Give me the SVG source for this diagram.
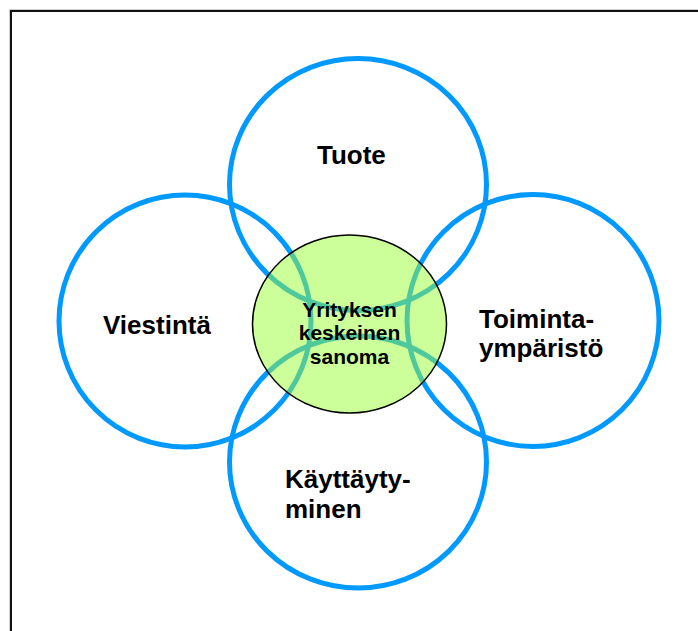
<svg xmlns="http://www.w3.org/2000/svg" width="698" height="631" viewBox="0 0 698 631">
<style>
.ring{fill:none;stroke:#0099FF;stroke-width:5}
.ringIn{fill:none;stroke:#4FC99B;stroke-width:5}
.lbl{font-family:"Liberation Sans",Arial,sans-serif;font-weight:bold;font-size:26px;fill:#000}
.ctr{font-family:"Liberation Sans",Arial,sans-serif;font-weight:bold;font-size:21px;fill:#000;text-anchor:middle}
</style>
<defs>
<clipPath id="inner"><ellipse cx="349.5" cy="324" rx="97" ry="89"/></clipPath>
</defs>
<rect width="698" height="631" fill="#fff"/>
<g id="frame">
<path d="M9.5,631 V9.5 H698" fill="none" stroke="#cfcfcf" stroke-width="1"/>
<path d="M11,631 V11 H698" fill="none" stroke="#111" stroke-width="2"/>
</g>
<g id="tuote">
<ellipse class="ring" cx="358" cy="184.5" rx="128.5" ry="126"/>
<text class="lbl" x="317" y="164">Tuote</text>
</g>
<g id="viestinta">
<circle class="ring" cx="185" cy="321" r="126"/>
<text class="lbl" x="103" y="334">Viestintä</text>
</g>
<g id="toimintaymparisto">
<circle class="ring" cx="533" cy="320.5" r="126"/>
<text class="lbl" x="479" y="328">Toiminta-</text>
<text class="lbl" x="479" y="357">ympäristö</text>
</g>
<g id="kayttaytyminen">
<ellipse class="ring" cx="358" cy="462" rx="128.5" ry="126"/>
<text class="lbl" x="285" y="488">Käyttäyty-</text>
<text class="lbl" x="285" y="518">minen</text>
</g>
<g id="keskeinen">
<ellipse cx="349.5" cy="324" rx="97" ry="89" fill="#CCFF99"/>
<g clip-path="url(#inner)">
<ellipse class="ringIn" cx="358" cy="184.5" rx="128.5" ry="126"/>
<circle class="ringIn" cx="185" cy="321" r="126"/>
<circle class="ringIn" cx="533" cy="320.5" r="126"/>
<ellipse class="ringIn" cx="358" cy="462" rx="128.5" ry="126"/>
</g>
<ellipse cx="349.5" cy="324" rx="97" ry="89" fill="none" stroke="#000" stroke-width="1.5"/>
<text class="ctr" x="349.5" y="317">Yrityksen</text>
<text class="ctr" x="349.5" y="340">keskeinen</text>
<text class="ctr" x="349.5" y="364">sanoma</text>
</g>
<g id="connectors"/>
</svg>
